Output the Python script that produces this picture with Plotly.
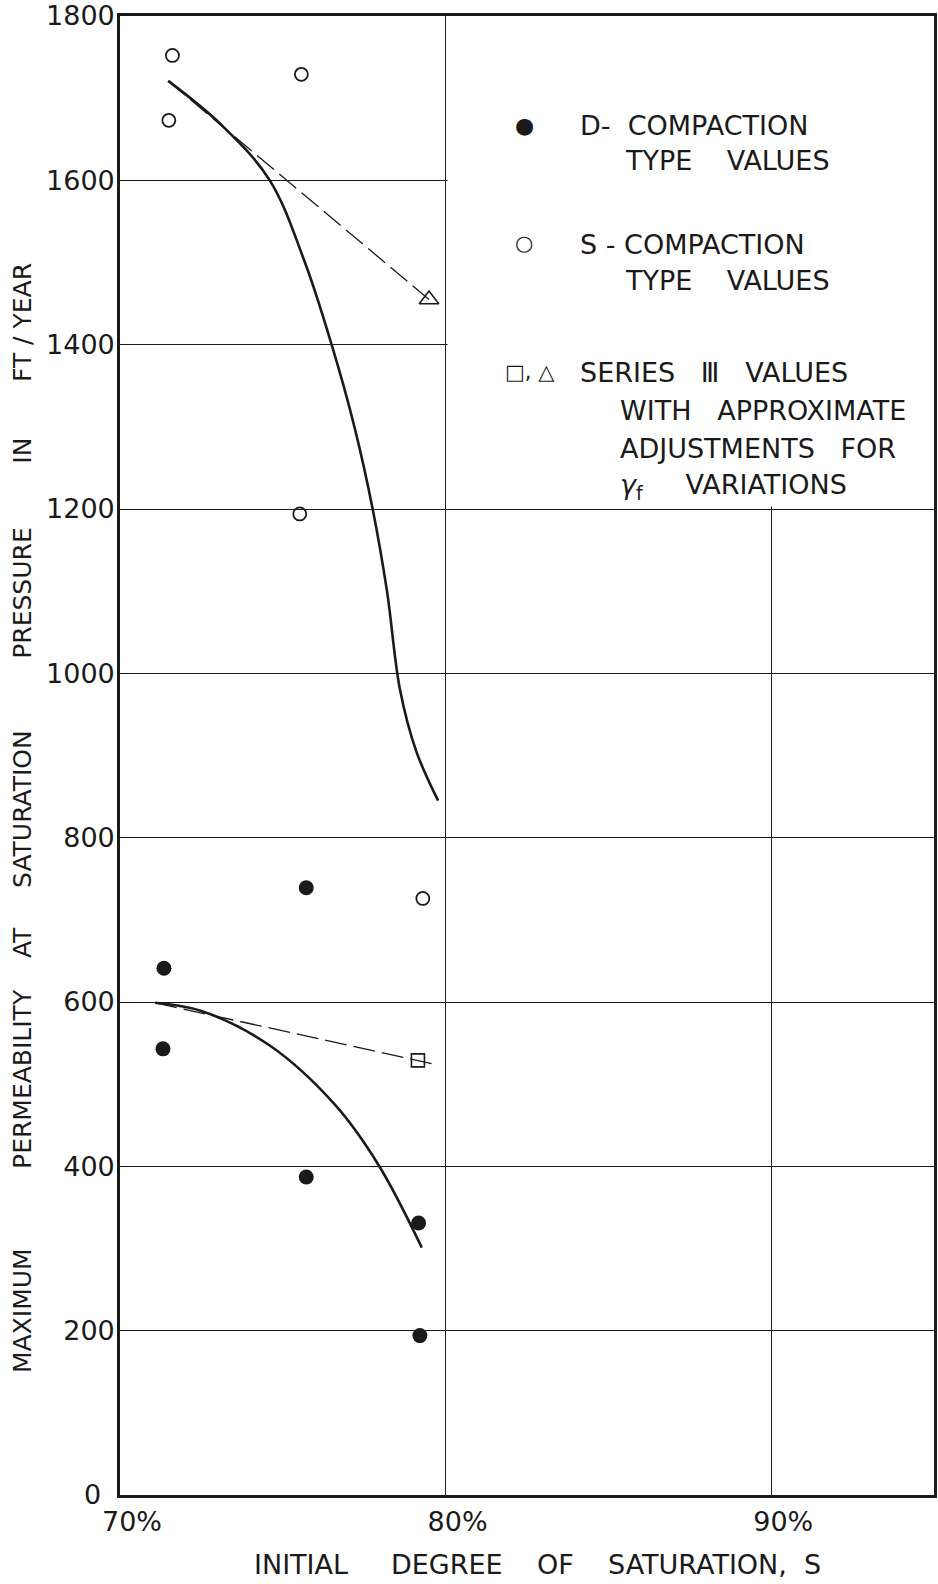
import plotly.graph_objects as go

# ---- data ----
# D-compaction type values (filled circles)
d_x = [71.35, 71.32, 75.72, 75.72, 79.17, 79.21]
d_y = [641, 543, 739, 387, 331, 194]
# S-compaction type values (open circles)
s_x = [71.61, 71.5, 75.57, 75.52, 79.3]
s_y = [1752, 1673, 1729, 1194, 726]
# Series III values (triangle: upper, square: lower)
tri_x = [79.49]
tri_y = [1455]
sq_x = [79.15]
sq_y = [529]
# fitted solid curves
up_curve_x = [71.48, 73.1, 74.6, 75.68, 76.5, 77.2, 77.76, 78.2, 78.6, 79.1, 79.77]
up_curve_y = [1721, 1668, 1600, 1500, 1400, 1300, 1200, 1100, 980, 905, 845]
lo_curve_x = [71.08, 72.5, 74.6, 76.6, 77.95, 79.27]
lo_curve_y = [599, 589, 547, 475, 401, 301]
# dashed adjustment lines
up_dash_x = [71.48, 79.49]
up_dash_y = [1721, 1455]
lo_dash_x = [71.08, 79.15, 79.69]
lo_dash_y = [599, 529, 524]

x_ticks = [70, 80, 90]
x_ticktext = ["70%", "80%", "90%"]
y_ticks = [0, 200, 400, 600, 800, 1000, 1200, 1400, 1600, 1800]
y_ticktext = ["0\u2002"] + [str(v) for v in y_ticks[1:]]

FONT = "DejaVu Sans"
INK = "#1a1a1a"

fig = go.Figure()

fig.add_trace(go.Scatter(x=up_curve_x, y=up_curve_y, mode="lines",
                         line=dict(color=INK, width=2.6, shape="spline", smoothing=1.0)))
fig.add_trace(go.Scatter(x=lo_curve_x, y=lo_curve_y, mode="lines",
                         line=dict(color=INK, width=2.6, shape="spline", smoothing=1.0)))
fig.add_trace(go.Scatter(x=up_dash_x, y=up_dash_y, mode="lines",
                         line=dict(color=INK, width=1.3, dash="22px,7px")))
fig.add_trace(go.Scatter(x=lo_dash_x, y=lo_dash_y, mode="lines",
                         line=dict(color=INK, width=1.3, dash="22px,7px")))
fig.add_trace(go.Scatter(x=d_x, y=d_y, mode="markers",
                         marker=dict(symbol="circle", size=15, color=INK)))
fig.add_trace(go.Scatter(x=s_x, y=s_y, mode="markers",
                         marker=dict(symbol="circle-open", size=13, color=INK,
                                     line=dict(width=1.8, color=INK))))
fig.add_trace(go.Scatter(x=tri_x, y=tri_y, mode="markers",
                         marker=dict(symbol="triangle-up-open", size=17, color=INK,
                                     line=dict(width=1.6, color=INK))))
fig.add_trace(go.Scatter(x=sq_x, y=sq_y, mode="markers",
                         marker=dict(symbol="square-open", size=13, color=INK,
                                     line=dict(width=1.6, color=INK))))

# white legend panel that hides the grid in the upper-right block
fig.add_shape(type="rect", xref="x", yref="y", x0=80.06, x1=95, y0=1203, y1=1800,
              fillcolor="white", line=dict(width=0), layer="between")

# figure fills the whole page (body margin removed below)
W, H = 938, 1584
PL, PR, PT, PB = 120, 934, 16, 1495   # plot area edges in page pixels
L, T, R, B = PL, PT, W - PR, H - PB
PW, PH = PR - PL, PB - PT


def px(xp):
    return (xp - PL) / PW


def py(yp):
    return (PB - yp) / PH


LEG = 27
legend_lines = [
    (524, 125, "●", "center", 22),
    (578, 125, "D-  COMPACTION", "left", LEG),
    (623, 160, "TYPE    VALUES", "left", LEG),
    (524, 243, "○", "center", 21),
    (578, 244, "S - COMPACTION", "left", LEG),
    (623, 280, "TYPE    VALUES", "left", LEG),
    (503, 372, "□, △", "left", 21),
    (578, 372, "SERIES   Ⅲ   VALUES", "left", LEG),
    (618, 411, "WITH   APPROXIMATE", "left", LEG),
    (618, 448, "ADJUSTMENTS   FOR", "left", LEG),
    (618, 486, "<i>γ</i><sub>f</sub>     VARIATIONS", "left", LEG),
]
annotations = []
for xp, yp, txt, anc, fs in legend_lines:
    annotations.append(dict(x=px(xp), y=py(yp), xref="paper", yref="paper", text=txt,
                            showarrow=False, xanchor=anc, yanchor="middle",
                            font=dict(family=FONT, size=fs, color=INK)))


def gap(n):
    return " " * n


y_title = ("MAXIMUM" + gap(10) + "PERMEABILITY" + gap(4) + "AT" + gap(5) +
           "SATURATION" + gap(9) + "PRESSURE" + gap(8) + "IN" + gap(7) + "FT / YEAR")
x_title = "INITIAL" + gap(5) + "DEGREE" + gap(4) + "OF" + gap(4) + "SATURATION," + gap(2) + "S"

annotations.append(dict(
    x=px(22), y=py(818), xref="paper", yref="paper", textangle=-90,
    text=y_title, showarrow=False, xanchor="center", yanchor="middle",
    font=dict(family=FONT, size=25, color=INK)))
annotations.append(dict(
    x=px(537), y=py(1565), xref="paper", yref="paper",
    text=x_title, showarrow=False, xanchor="center", yanchor="middle",
    font=dict(family=FONT, size=27, color=INK)))

fig.update_layout(
    width=W, height=H, margin=dict(l=L, r=R, t=T, b=B, autoexpand=False),
    paper_bgcolor="white", plot_bgcolor="white", showlegend=False,
    annotations=annotations,
    font=dict(family=FONT, color=INK),
)
fig.update_xaxes(range=[70, 95], tickvals=x_ticks, ticktext=x_ticktext,
                 showgrid=True, gridcolor=INK, gridwidth=1.2,
                 showline=True, linecolor=INK, linewidth=2.6, mirror=True,
                 ticks="", zeroline=False, ticklabelshift=12, ticklabelstandoff=1,
                 ticklabeloverflow="allow", automargin=False,
                 tickfont=dict(family=FONT, size=27, color=INK))
fig.update_yaxes(range=[0, 1800], tickvals=y_ticks, ticktext=y_ticktext,
                 showgrid=True, gridcolor=INK, gridwidth=1.2,
                 showline=True, linecolor=INK, linewidth=2.6, mirror=True,
                 ticks="", zeroline=False, ticklabelstandoff=-3,
                 ticklabeloverflow="allow", automargin=False,
                 tickfont=dict(family=FONT, size=27, color=INK))

fig.write_html("out.html", config={"displayModeBar": False},
               post_script="document.body.style.margin='0';document.body.style.overflow='hidden';")
